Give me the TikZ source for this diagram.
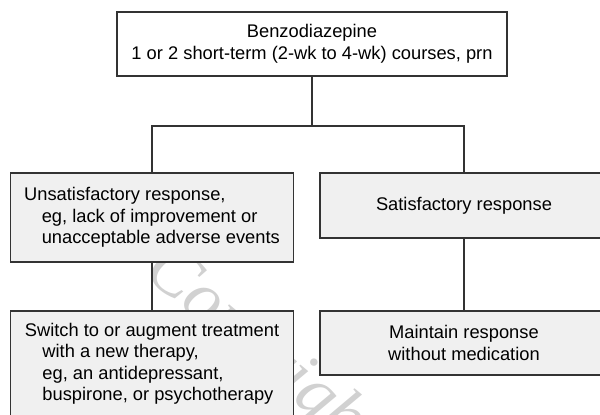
\documentclass[tikz,border=0pt]{standalone}
\usepackage{fontspec}
\setmainfont{Liberation Sans}
\newfontfamily\markfont{Liberation Serif}
\definecolor{boxfill}{gray}{0.94}
\definecolor{boxline}{gray}{0.2}
\definecolor{markgray}{gray}{0.82}
\def \Indent {\hspace*{17.6pt}}
\tikzstyle{stepbox}=[
  draw=boxline,
  line width=1.2pt,
  fill=boxfill,
  inner sep=0pt,
  align=center,
  font=\fontsize{18.3}{21.5}\selectfont
]
\tikzstyle{wire}=[draw=boxline, line width=1.3pt]

\begin{document}
\begin{tikzpicture}[x=1pt, y=-1pt]
  \useasboundingbox (0,0) rectangle (600,415);
  \clip (0,0) rectangle (600,415);

  % stamp behind the boxes
  \node[anchor=base west, rotate=-40, text=markgray,
        font=\markfont\itshape\fontsize{70}{70}\selectfont] (wmark) at (140,272) {Copyright};

  % top
  \node[stepbox, fill=white, minimum width=390pt, minimum height=64pt] (benzo) at (312,44)
    {Benzodiazepine\\1 or 2 short-term (2-wk to 4-wk) courses, prn};

  % left column
  \node[stepbox, align=left, minimum width=282.3pt, minimum height=89pt] (unsat) at (152,217.5)
    {Unsatisfactory response,\\\Indent eg, lack of improvement or\\\Indent unacceptable adverse events};
  \node[stepbox, align=left, minimum width=282.3pt, minimum height=106pt] (switch) at (152,364)
    {Switch to or augment treatment\\\Indent with a new therapy,\\\Indent eg, an antidepressant,\\\Indent buspirone, or psychotherapy};

  % right column
  \node[stepbox, minimum width=288pt, minimum height=65pt] (sat) at (464,205.5)
    {Satisfactory response};
  \node[stepbox, minimum width=288pt, minimum height=64pt] (keep) at (464,343)
    {Maintain response\\without medication};

  % connect
  \coordinate (split) at (312,126);
  \draw[wire] (benzo) -- (split);
  \draw[wire] (unsat) |- (split) -| (sat);
  \draw[wire] (unsat) -- (switch);
  \draw[wire] (sat) -- (keep);
\end{tikzpicture}
\end{document}
